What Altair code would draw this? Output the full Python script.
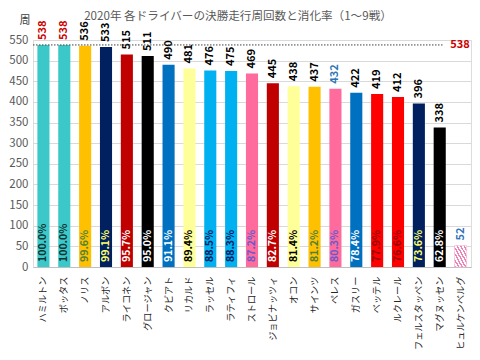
import altair as alt
import pandas as pd

drivers = ["ハミルトン", "ボッタス", "ノリス", "アルボン", "ライコネン", "グロージャン", "クビアト",
           "リカルド", "ラッセル", "ラティフィ", "ストロール", "ジョビナッツィ", "オコン", "サインツ",
           "ペレス", "ガスリー", "ベッテル", "ルクレール", "フェルスタッペン", "マグヌッセン", "ヒュルケンベルグ"]
laps = [538, 538, 536, 533, 515, 511, 490, 481, 476, 475, 469, 445, 438, 437, 432, 422, 419, 412, 396, 338, 52]
pcts = ["100.0%", "100.0%", "99.6%", "99.1%", "95.7%", "95.0%", "91.1%", "89.4%", "88.5%", "88.3%",
        "87.2%", "82.7%", "81.4%", "81.2%", "80.3%", "78.4%", "77.9%", "76.6%", "73.6%", "62.8%", ""]
bar_colors = ["#3CC8C8", "#3CC8C8", "#FFC000", "#002060", "#C00000", "#000000", "#0070C0",
              "#FFFF99", "#00B0F0", "#00B0F0", "#FF6B9D", "#C00000", "#FFFF99", "#FFC000",
              "#FF6B9D", "#0070C0", "#FF0000", "#FF0000", "#002060", "#000000", "#FF6B9D"]
pct_colors = ["#0D3333", "#0D3333", "#548235", "#FFFF66", "#FFFFFF", "#FFFFFF", "#FFFFFF",
              "#000000", "#002060", "#002060", "#6A5ACD", "#FFFFFF", "#000000", "#548235",
              "#6A5ACD", "#FFFFFF", "#990000", "#990000", "#FFFF66", "#FFFFFF", "#FFFFFF"]
label_colors = ["#CC0000", "#CC0000", "#000000", "#000000", "#000000", "#000000", "#000000",
                "#000000", "#000000", "#000000", "#000000", "#000000", "#000000", "#000000",
                "#2E75B6", "#000000", "#000000", "#000000", "#000000", "#000000", "#2E75B6"]
label_weights = ["bold"] * 6 + ["normal"] * 15
hatched = [False] * 20 + [True]
full_laps = 538
y_ticks = list(range(0, 551, 50))
y_unit = "周"
title_text = "2020年 各ドライバーの決勝走行周回数と消化率（1～9戦）"

df = pd.DataFrame({
    "driver": drivers, "laps": laps, "pct": pcts, "bar_color": bar_colors,
    "pct_color": pct_colors, "label_color": label_colors, "weight": label_weights,
    "hatched": hatched,
})

FONT = "Noto Sans CJK JP"

x_enc = alt.X("driver:N", sort=None, title=None,
              scale=alt.Scale(paddingInner=0.42, paddingOuter=0.21),
              axis=alt.Axis(labelAngle=-90, labelFontSize=9.2, labelColor="#262626",
                            labelFont=FONT, ticks=False, labelPadding=9,
                            domainColor="#BFBFBF", domainWidth=1))
y_scale = alt.Scale(domain=[0, 550], nice=False)
y_axis = alt.Axis(values=y_ticks, title=None,
                  labelFont=FONT, labelFontSize=11.5, labelOverlap=False,
                  labelColor="#595959", labelPadding=5, ticks=False, domain=False,
                  gridColor="#D9D9D9", gridWidth=1)


def yq(field):
    return alt.Y(field, scale=y_scale, axis=y_axis, title=None)


base = alt.Chart(df).encode(x=x_enc)

bars = base.transform_filter("!datum.hatched").mark_bar().encode(
    y=yq("laps:Q"), color=alt.Color("bar_color:N", scale=None))

stops = []
n = 7
for i in range(n):
    stops.append({"offset": i / n, "color": "#F080B8"})
    stops.append({"offset": (i + 0.45) / n, "color": "#F080B8"})
    stops.append({"offset": (i + 0.45) / n, "color": "#FFFFFF"})
    stops.append({"offset": (i + 1) / n, "color": "#FFFFFF"})
grad = {"gradient": "linear", "x1": 0, "y1": 1, "x2": 1, "y2": 0, "stops": stops}

hatch = base.transform_filter("datum.hatched").mark_bar(
    color=grad, stroke="#F4B8D4", strokeWidth=0.6).encode(y=yq("laps:Q"))

top_bold = base.transform_filter("datum.weight == 'bold'").mark_text(
    angle=270, align="left", baseline="middle", dx=5, font=FONT, fontSize=11,
    fontWeight="bold").encode(
    y=yq("laps:Q"), text="laps:Q", color=alt.Color("label_color:N", scale=None))
top_norm = base.transform_filter("datum.weight != 'bold'").mark_text(
    angle=270, align="left", baseline="middle", dx=5, font=FONT, fontSize=11,
    fontWeight=600).encode(
    y=yq("laps:Q"), text="laps:Q", color=alt.Color("label_color:N", scale=None))

pct_text = base.transform_filter("datum.pct != ''").transform_calculate(zero="0").mark_text(
    angle=270, align="left", baseline="middle", dx=5, font=FONT, fontSize=10.5,
    fontWeight="bold").encode(
    y=yq("zero:Q"), text="pct:N", color=alt.Color("pct_color:N", scale=None))

ref_df = pd.DataFrame({"v": [full_laps]})
rule = alt.Chart(ref_df).mark_rule(color="#404040", strokeDash=[1.5, 1.5], strokeWidth=1).encode(
    y=yq("v:Q"), x=alt.value(0), x2=alt.value(410))
rule_text = alt.Chart(ref_df).mark_text(
    color="#CC0000", fontWeight="bold", font=FONT, fontSize=11, align="center",
    baseline="middle").encode(
    y=yq("v:Q"), x=alt.value(427), text="v:Q")

txt_df = pd.DataFrame({"unit": [y_unit], "title": [title_text]})
unit_text = alt.Chart(txt_df).mark_text(
    font=FONT, fontSize=11, color="#404040", align="center", baseline="middle").encode(
    x=alt.value(-8), y=alt.value(-19), text="unit:N")
title_mark = alt.Chart(txt_df).mark_text(
    font=FONT, fontSize=11.6, color="#595959", align="center", baseline="middle").encode(
    x=alt.value(205), y=alt.value(-23), text="title:N")

chart = alt.layer(bars, hatch, top_bold, top_norm, pct_text, rule, rule_text,
                  unit_text, title_mark).properties(
    width=438, height=227,
    autosize=alt.AutoSizeParams(type="none"),
    padding={"left": 25, "top": 32, "right": 1, "bottom": 85},
).configure_view(stroke=None).configure(background="white")

chart.save("out.html", embed_options={"renderer": "svg", "actions": False})
